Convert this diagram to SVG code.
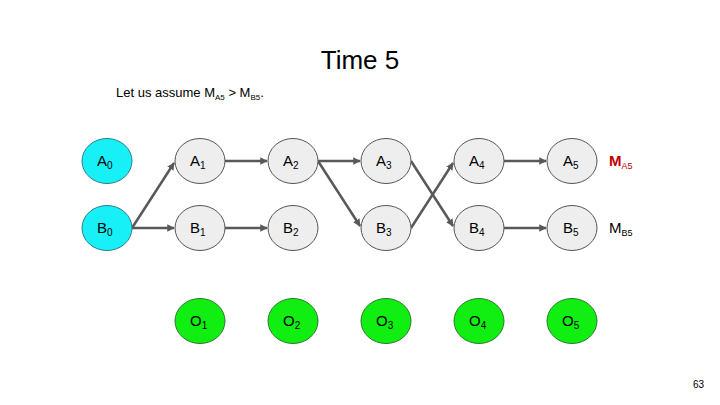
<svg xmlns="http://www.w3.org/2000/svg" width="720" height="405" viewBox="0 0 720 405">
<style>
text{font-family:"Liberation Sans",Arial,sans-serif;fill:#000}
.lbl{font-size:15px}
.sub{font-size:10px}
.cy{fill:#18F0F8;stroke:#2a7f8a;stroke-width:1}
.gr{fill:#EEEEEE;stroke:#555;stroke-width:1}
.gn{fill:#11EE11;stroke:#2a7a2a;stroke-width:1}
.e{stroke:#595959;stroke-width:2.5;fill:none;marker-end:url(#ah)}
</style>
<defs>
<marker id="ah" viewBox="0 0 10 10" refX="9" refY="5" markerWidth="3" markerHeight="3" orient="auto" markerUnits="strokeWidth">
<path d="M0,0 L10,5 L0,10 z" fill="#595959"/>
</marker>
</defs>
<rect width="720" height="405" fill="#fff"/>
<text x="360" y="69" font-size="26" text-anchor="middle">Time 5</text>
<text x="116" y="97" font-size="13">Let us assume M<tspan font-size="8" dy="3">A5</tspan><tspan dy="-3"> &gt; M</tspan><tspan font-size="8" dy="3">B5</tspan><tspan dy="-3">.</tspan></text>
<g id="connectors">
<line class="e" x1="132" y1="228" x2="174" y2="163"/>
<line class="e" x1="132" y1="228" x2="174" y2="228"/>
<line class="e" x1="225" y1="161" x2="267" y2="161"/>
<line class="e" x1="225" y1="228" x2="267" y2="228"/>
<line class="e" x1="318" y1="161" x2="360" y2="161"/>
<line class="e" x1="318" y1="161" x2="360" y2="226"/>
<line class="e" x1="411" y1="161" x2="453" y2="226"/>
<line class="e" x1="411" y1="228" x2="453" y2="163"/>
<line class="e" x1="504" y1="161" x2="546" y2="161"/>
<line class="e" x1="504" y1="228" x2="546" y2="228"/>
</g>
<g id="A0"><ellipse class="cy" cx="107" cy="161" rx="25" ry="22.5"/><text class="lbl" x="97" y="166">A<tspan class="sub" dy="3">0</tspan></text></g>
<g id="B0"><ellipse class="cy" cx="107" cy="228" rx="25" ry="22.5"/><text class="lbl" x="97" y="233">B<tspan class="sub" dy="3">0</tspan></text></g>
<g id="A1"><ellipse class="gr" cx="200" cy="161" rx="25" ry="22.5"/><text class="lbl" x="190" y="166">A<tspan class="sub" dy="3">1</tspan></text></g>
<g id="B1"><ellipse class="gr" cx="200" cy="228" rx="25" ry="22.5"/><text class="lbl" x="190" y="233">B<tspan class="sub" dy="3">1</tspan></text></g>
<g id="A2"><ellipse class="gr" cx="293" cy="161" rx="25" ry="22.5"/><text class="lbl" x="283" y="166">A<tspan class="sub" dy="3">2</tspan></text></g>
<g id="B2"><ellipse class="gr" cx="293" cy="228" rx="25" ry="22.5"/><text class="lbl" x="283" y="233">B<tspan class="sub" dy="3">2</tspan></text></g>
<g id="A3"><ellipse class="gr" cx="386" cy="161" rx="25" ry="22.5"/><text class="lbl" x="376" y="166">A<tspan class="sub" dy="3">3</tspan></text></g>
<g id="B3"><ellipse class="gr" cx="386" cy="228" rx="25" ry="22.5"/><text class="lbl" x="376" y="233">B<tspan class="sub" dy="3">3</tspan></text></g>
<g id="A4"><ellipse class="gr" cx="479" cy="161" rx="25" ry="22.5"/><text class="lbl" x="469" y="166">A<tspan class="sub" dy="3">4</tspan></text></g>
<g id="B4"><ellipse class="gr" cx="479" cy="228" rx="25" ry="22.5"/><text class="lbl" x="469" y="233">B<tspan class="sub" dy="3">4</tspan></text></g>
<g id="A5"><ellipse class="gr" cx="572" cy="161" rx="25" ry="22.5"/><text class="lbl" x="563" y="166">A<tspan class="sub" dy="3">5</tspan></text></g>
<g id="B5"><ellipse class="gr" cx="572" cy="228" rx="25" ry="22.5"/><text class="lbl" x="563" y="233">B<tspan class="sub" dy="3">5</tspan></text></g>
<g id="O1"><ellipse class="gn" cx="200" cy="321" rx="25" ry="22.5"/><text class="lbl" x="190" y="326">O<tspan class="sub" dy="3">1</tspan></text></g>
<g id="O2"><ellipse class="gn" cx="293" cy="321" rx="25" ry="22.5"/><text class="lbl" x="283" y="326">O<tspan class="sub" dy="3">2</tspan></text></g>
<g id="O3"><ellipse class="gn" cx="386" cy="321" rx="25" ry="22.5"/><text class="lbl" x="376" y="326">O<tspan class="sub" dy="3">3</tspan></text></g>
<g id="O4"><ellipse class="gn" cx="479" cy="321" rx="25" ry="22.5"/><text class="lbl" x="469" y="326">O<tspan class="sub" dy="3">4</tspan></text></g>
<g id="O5"><ellipse class="gn" cx="572" cy="321" rx="25" ry="22.5"/><text class="lbl" x="562" y="326">O<tspan class="sub" dy="3">5</tspan></text></g>
<g id="MA5"><text x="609" y="166" font-size="15" font-weight="bold" style="fill:#C00000">M<tspan font-size="9" font-weight="normal" dy="3">A5</tspan></text></g>
<g id="MB5"><text x="609" y="233" font-size="15">M<tspan font-size="9" dy="3">B5</tspan></text></g>
<text x="704" y="388" font-size="10" text-anchor="end">63</text>
</svg>
